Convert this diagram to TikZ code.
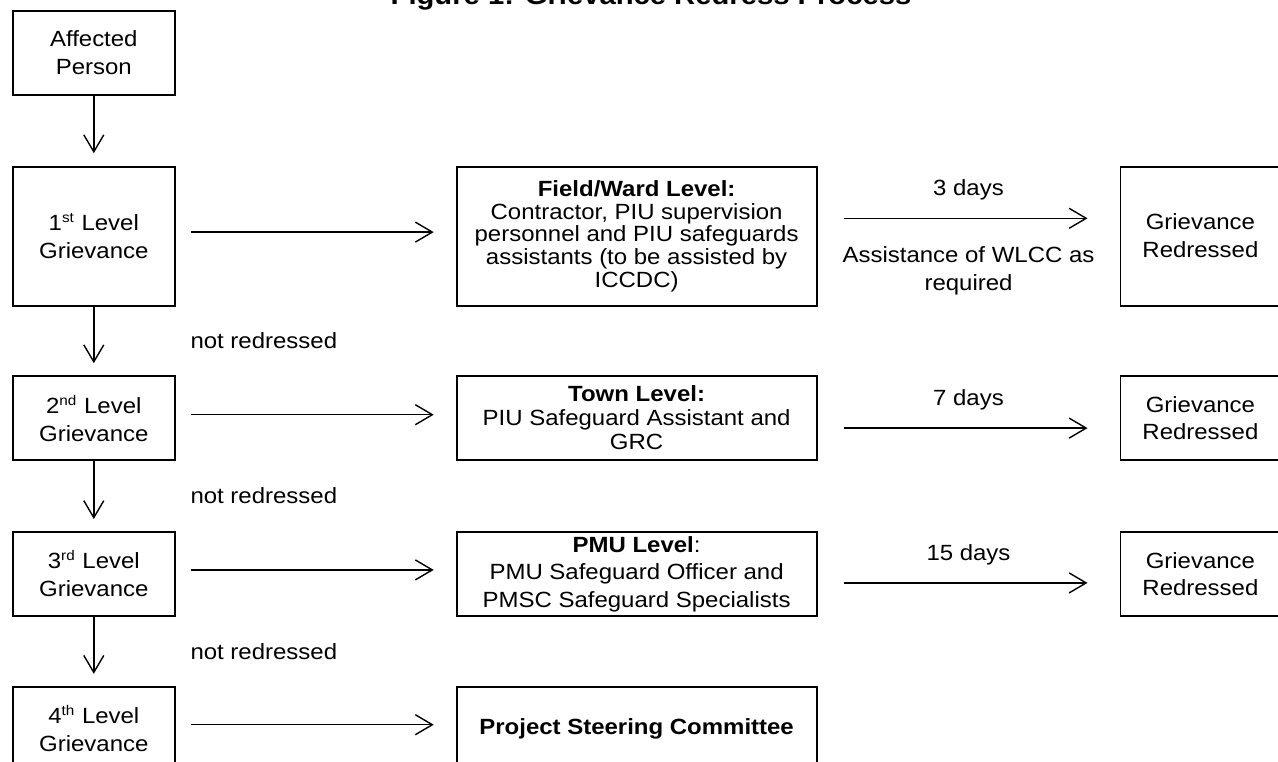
\documentclass[tikz,border=0pt]{standalone}
\usepackage{fontspec}
\setmainfont{Liberation Sans}[FakeStretch=1.09]
\usetikzlibrary{positioning,arrows.meta}

\newcommand{\lvlsup}[1]{\textsuperscript{\fontsize{7pt}{8pt}\selectfont #1}}

\tikzset{
  box/.style={draw, line width=0.9pt, align=center, inner sep=2pt,
    font=\fontsize{11pt}{14pt}\selectfont},
  lvl/.style={box, minimum width=81pt, minimum height=42pt},
  stage/.style={box, minimum width=180pt, minimum height=42pt},
  redressed/.style={box, minimum width=80pt, minimum height=42pt},
  lbl/.style={align=center, inner sep=0pt, font=\fontsize{11pt}{14pt}\selectfont},
  flow/.style={-{Straight Barb[length=8.5pt,width=10pt]}, line width=0.7pt},
}

\begin{document}
\begin{tikzpicture}
  \useasboundingbox (0,0) rectangle (639pt,-380.5pt);
  % Title (cut at the top)
  \node[anchor=base, font=\fontsize{13.4pt}{16pt}\selectfont\bfseries] (title) at (325.5pt,-2pt) {Figure 1: Grievance Redress Process};
  % Define nodes
  \node[lvl] (ap) at (46.9pt,-26.4pt) {Affected\\Person};
  \node[lvl, minimum height=69.5pt, below=35pt of ap] (l1) {1\lvlsup{st} Level\\Grievance};
  \node[lvl, below=34.35pt of l1] (l2) {2\lvlsup{nd} Level\\Grievance};
  \node[lvl, below=35pt of l2] (l3) {3\lvlsup{rd} Level\\Grievance};
  \node[lvl, below=34.5pt of l3] (l4) {4\lvlsup{th} Level\\Grievance};
  \node[stage, minimum height=69.5pt, font=\fontsize{11pt}{11.4pt}\selectfont, right=140pt of l1] (fw) {\textbf{Field/Ward Level:}\\Contractor, PIU supervision\\personnel and PIU safeguards\\assistants (to be assisted by\\ICCDC)};
  \node[stage, font=\fontsize{11pt}{12pt}\selectfont, right=140pt of l2] (town) {\textbf{Town Level:}\\PIU Safeguard Assistant and\\GRC};
  \node[stage, font=\fontsize{11pt}{13.75pt}\selectfont, right=140pt of l3] (pmu) {\textbf{PMU Level}:\\PMU Safeguard Officer and\\PMSC Safeguard Specialists};
  \node[stage, right=140pt of l4] (psc) {\textbf{Project Steering Committee}};
  \node[redressed, minimum height=69.5pt, right=151pt of fw] (gr1) {Grievance\\Redressed};
  \node[redressed, font=\fontsize{11pt}{13.5pt}\selectfont, right=151pt of town] (gr2) {Grievance\\Redressed};
  \node[redressed, font=\fontsize{11pt}{13.5pt}\selectfont, right=151pt of pmu] (gr3) {Grievance\\Redressed};
  % Connect the nodes
  \draw[flow, shorten >=6.25pt] (ap) -- (l1);
  \draw[flow, shorten >=6pt] (l1) -- node[lbl, anchor=west, xshift=48pt] {not redressed} (l2);
  \draw[flow, shorten >=6pt] (l2) -- node[lbl, anchor=west, xshift=48pt] {not redressed} (l3);
  \draw[flow, shorten >=6pt] (l3) -- node[lbl, anchor=west, xshift=48pt] {not redressed} (l4);
  \draw[flow, shorten <=7.5pt, shorten >=11pt] ([yshift=2pt]l1.east) -- ([yshift=2pt]fw.west);
  \draw[flow, shorten <=7.5pt, shorten >=11pt] ([yshift=1.7pt]l2.east) -- ([yshift=1.7pt]town.west);
  \draw[flow, shorten <=7.5pt, shorten >=11pt] ([yshift=2pt]l3.east) -- ([yshift=2pt]pmu.west);
  \draw[flow, shorten <=7.5pt, shorten >=11pt] ([yshift=2pt]l4.east) -- ([yshift=2pt]psc.west);
  \draw[flow, shorten <=13pt, shorten >=16pt] ([yshift=8.9pt]fw.east) -- node[lbl, yshift=14.35pt] {3 days} node[lbl, yshift=-26.15pt] {Assistance of WLCC as\\required} ([yshift=8.9pt]gr1.west);
  \draw[flow, shorten <=13pt, shorten >=16pt] ([yshift=-5pt]town.east) -- node[lbl, yshift=14pt] {7 days} ([yshift=-5pt]gr2.west);
  \draw[flow, shorten <=13pt, shorten >=16pt] ([yshift=-4.5pt]pmu.east) -- node[lbl, yshift=14pt] {15 days} ([yshift=-4.5pt]gr3.west);
\end{tikzpicture}
\end{document}
